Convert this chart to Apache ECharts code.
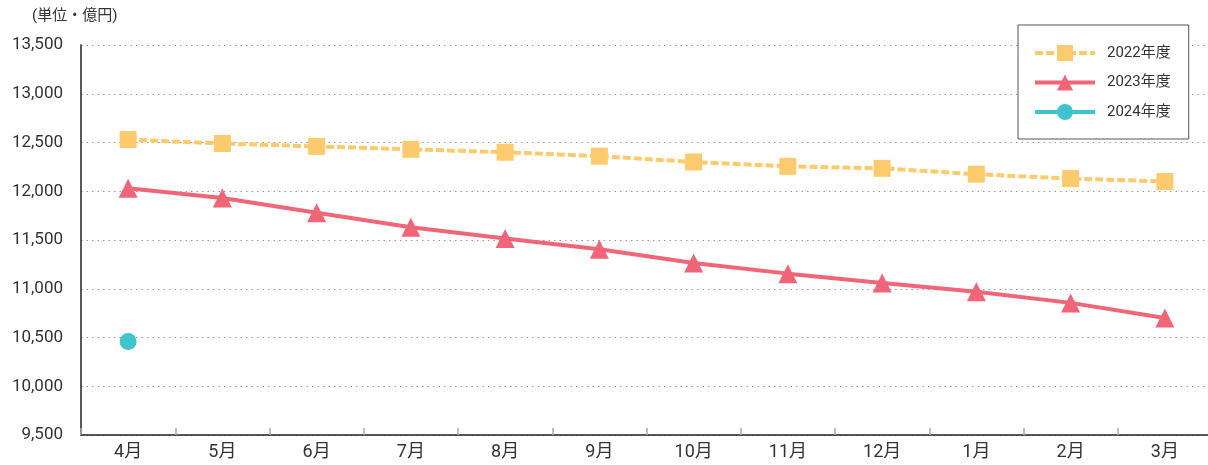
<!DOCTYPE html>
<html>
<head>
<meta charset="utf-8">
<script src="https://cdn.jsdelivr.net/npm/echarts@6/dist/echarts.min.js"></script>
<style>
  html, body { margin: 0; padding: 0; background: #fff; }
  #chart { width: 1208px; height: 465px; }
</style>
</head>
<body>
<div id="chart"></div>
<script>
  // 月
  const months = ['4月', '5月', '6月', '7月', '8月', '9月', '10月', '11月', '12月', '1月', '2月', '3月'];
  // 年度別の値（億円）
  const fy2022 = [12530, 12490, 12460, 12430, 12400, 12360, 12300, 12255, 12235, 12175, 12130, 12100];
  const fy2023 = [12030, 11930, 11780, 11630, 11515, 11405, 11265, 11155, 11060, 10970, 10855, 10700];
  const fy2024 = [10460];
  const seriesNames = ['2022年度', '2023年度', '2024年度'];

  const jpFont = 'Roboto, "Noto Sans CJK JP", sans-serif';

  let chart = echarts.init(document.getElementById('chart'));
  chart.setOption({
    animation: false,
    textStyle: { fontFamily: jpFont },
    graphic: [{
      type: 'text',
      left: 32,
      top: 9,
      style: { text: '(単位・億円)', fontSize: 15, fill: '#333', fontFamily: jpFont }
    }],
    legend: {
      data: seriesNames,
      orient: 'vertical',
      left: 1018,
      top: 25,
      padding: [20, 18, 19, 15],
      itemGap: 13.5,
      itemWidth: 60,
      itemHeight: 20,
      borderColor: '#555',
      borderWidth: 1,
      backgroundColor: '#fff',
      lineStyle: { width: 4 },
      textStyle: { fontSize: 15, color: '#333', fontFamily: jpFont, padding: [0, 0, 0, 7] }
    },
    grid: {
      left: 81,
      width: 1131,
      top: 45,
      bottom: 30,
      outerBoundsMode: 'none'
    },
    xAxis: {
      type: 'category',
      data: months,
      boundaryGap: true,
      axisLine: { lineStyle: { color: '#222', width: 1.5 } },
      axisTick: { show: true, inside: true, length: 7, lineStyle: { color: '#aaa', width: 1.5 } },
      axisLabel: { fontSize: 18, color: '#333', margin: 9, fontFamily: jpFont }
    },
    yAxis: {
      type: 'value',
      min: 9500,
      max: 13500,
      interval: 500,
      axisLine: { show: true, lineStyle: { color: '#222', width: 1.5 } },
      axisTick: { show: false },
      axisLabel: {
        fontSize: 17,
        color: '#333',
        margin: 18,
        fontFamily: jpFont,
        formatter: v => v.toLocaleString('en-US')
      },
      splitLine: { show: true, lineStyle: { color: '#999', width: 1, type: [1.5, 4] } }
    },
    series: [
      {
        name: seriesNames[0],
        type: 'line',
        data: fy2022,
        symbol: 'rect',
        symbolSize: 17,
        itemStyle: { color: '#fdcb6e' },
        lineStyle: { color: '#fdcb6e', width: 4, type: [8, 3] }
      },
      {
        name: seriesNames[1],
        type: 'line',
        data: fy2023,
        symbol: 'triangle',
        symbolSize: 19,
        itemStyle: { color: '#f06577' },
        lineStyle: { color: '#f06577', width: 4 }
      },
      {
        name: seriesNames[2],
        type: 'line',
        data: fy2024,
        symbol: 'circle',
        symbolSize: 17,
        itemStyle: { color: '#3fc4ce' },
        lineStyle: { color: '#3fc4ce', width: 4 }
      }
    ]
  });
</script>
</body>
</html>
